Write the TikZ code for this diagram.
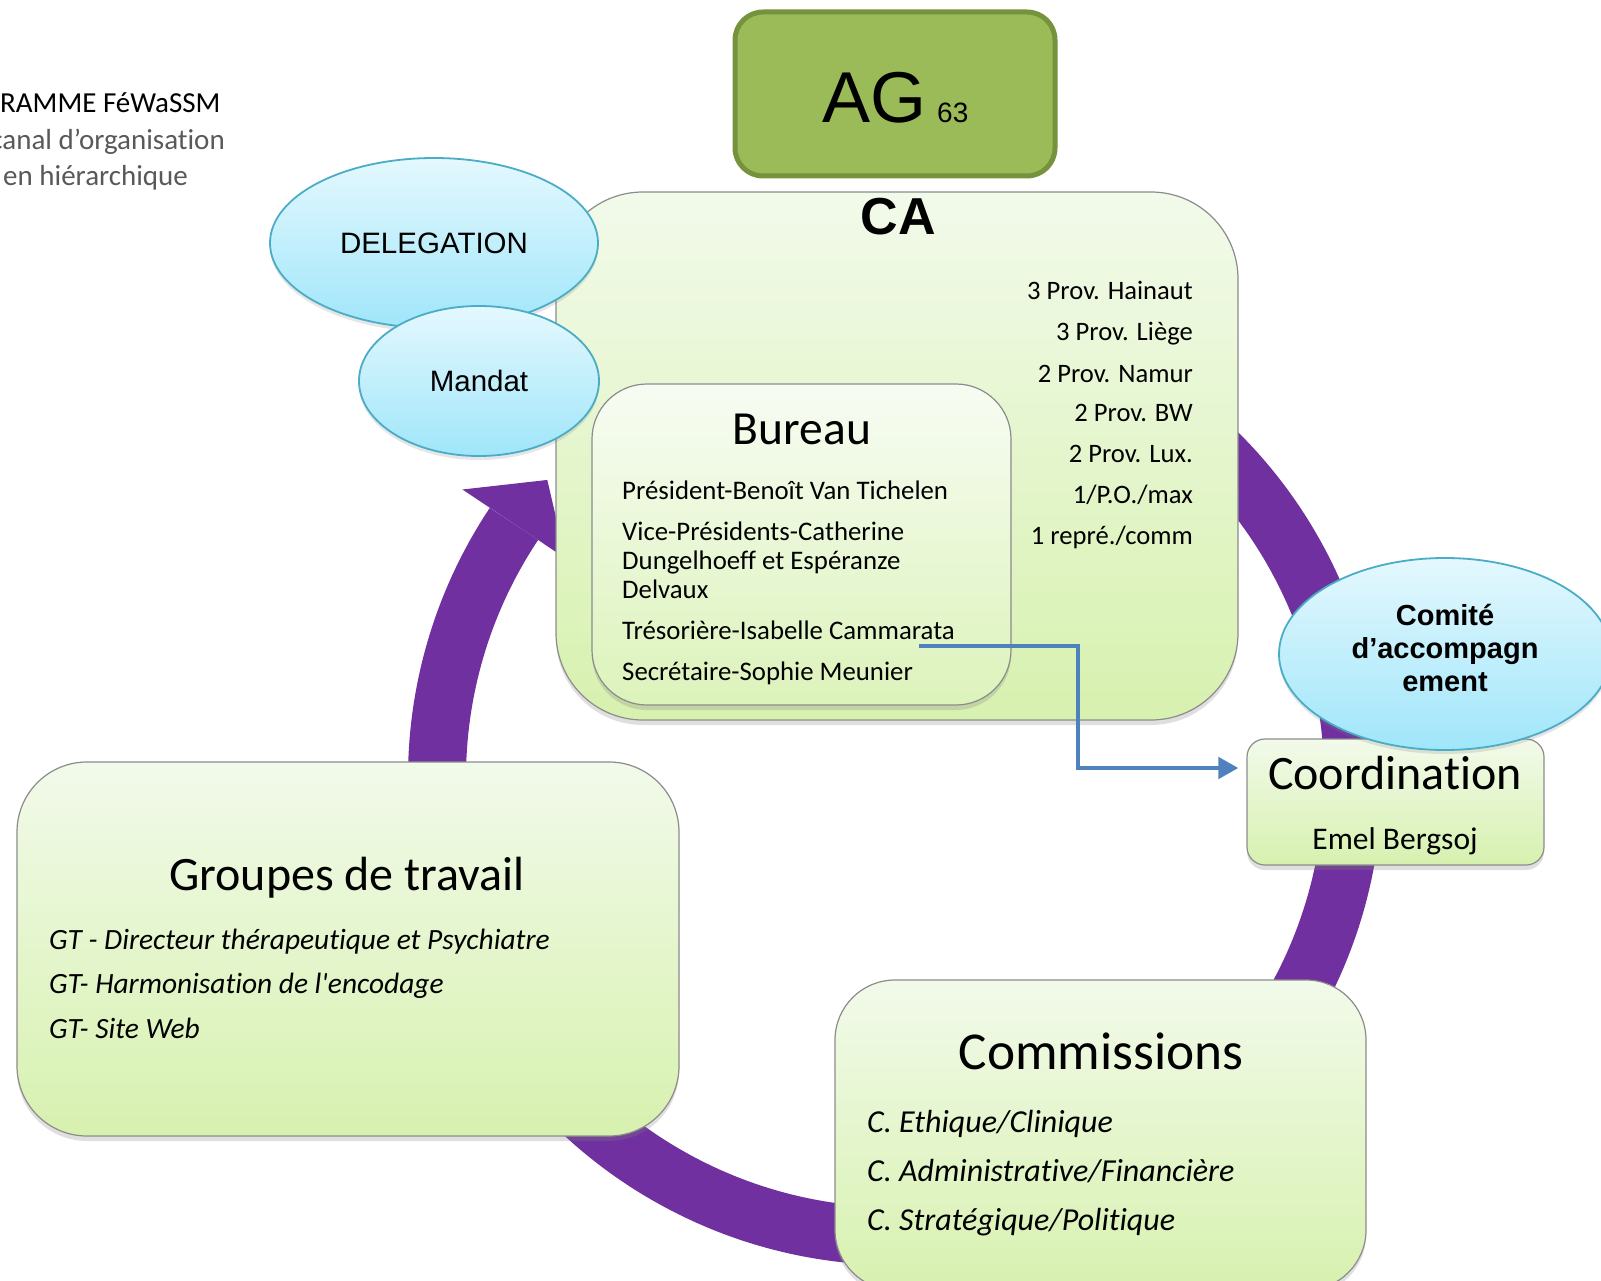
\documentclass[tikz,border=0pt]{standalone}
\usepackage{fontspec}
\setmainfont{Carlito}[Ligatures={NoCommon}]
\newfontfamily\carlitoplain{Carlito}[Ligatures={NoCommon}]
\newfontfamily\arialf{Liberation Sans}
\usetikzlibrary{shadows,calc,shapes.geometric,arrows.meta}
\definecolor{agfill}{HTML}{9BBB59}
\definecolor{agdraw}{HTML}{76923C}
\definecolor{purp}{HTML}{7030A0}
\definecolor{arrowblue}{HTML}{4F81BD}
\definecolor{gtop}{HTML}{F2FAEA}
\definecolor{gbot}{HTML}{D7F1AF}
\definecolor{btop}{HTML}{E4F8FE}
\definecolor{bbot}{HTML}{A0E6FA}
\definecolor{edgeblue}{HTML}{4BACC6}
\definecolor{boxedge}{HTML}{8C8C8C}
\definecolor{titlegray}{HTML}{595959}
\tikzset{
  greenbox/.style={draw=boxedge, line width=1.2pt, top color=gtop, bottom color=gbot,
    drop shadow={opacity=0.25, shadow xshift=0pt, shadow yshift=-5pt}},
  bluebubble/.style={ellipse, draw=edgeblue, line width=1.8pt, top color=btop, bottom color=bbot,
    inner sep=0pt, drop shadow={opacity=0.2, shadow xshift=0pt, shadow yshift=-4pt}},
  txt/.style={inner sep=0pt, text=black},
  ring/.style={purp, line width=58pt},
  bluearrow/.style={arrowblue, line width=4.5pt, -{Triangle[length=20pt,width=21pt]}}
}
\begin{document}
\begin{tikzpicture}[x=1pt,y=-1pt]
\useasboundingbox (0,0) rectangle (1601,1281);
% circular arrow
\coordinate (C) at (895,778);
\draw[ring] ($(C)+(-60:458)$) arc[start angle=-60,end angle=213.7,radius=458];
\fill[purp] ($(C)+(213.7:396)$) -- ($(C)+(213.7:520)$) -- ($(C)+(220.6:458)$) -- cycle;
% title
\node[txt, anchor=base west, font=\fontsize{29}{30}\selectfont] (t1) at (0,113) {RAMME FéWaSSM};
\node[txt, anchor=base east, text=titlegray, font=\fontsize{29}{30}\selectfont] (t2) at (225,150) {canal d’organisation};
\node[txt, anchor=base west, text=titlegray, font=\fontsize{29}{30}\selectfont] (t3) at (3,186) {en hiérarchique};
% AG
\node[draw=agdraw, line width=5pt, fill=agfill, rounded corners=28pt, minimum width=320pt, minimum height=164pt] (ag) at (895,94) {};
\node[txt, anchor=base west, font=\arialf\fontsize{72}{72}\selectfont] (agt) at (822,123) {AG};
\node[txt, anchor=base west, font=\arialf\fontsize{28}{28}\selectfont] (ag63) at (937,123) {63};
% CA
\node[greenbox, rounded corners=87pt, minimum width=682pt, minimum height=528pt] (ca) at (897,456) {};
\node[txt, anchor=base, font=\arialf\bfseries\fontsize{52}{52}\selectfont] (cat) at (898,235) {CA};
\foreach \t/\y [count=\i] in {{3 Prov. Hainaut}/300, {3 Prov. Liège}/341, {2 Prov. Namur}/382, {2 Prov. BW}/421, {2 Prov. Lux.}/462, {1/P.O./max}/503, {1 repré./comm}/544}
  \node[txt, anchor=base east, font=\fontsize{26.6}{28}\selectfont] (prov\i) at (1193,\y) {\t};
% Bureau
\node[greenbox, top color=gtop!60!white, bottom color=gbot!80!gtop, rounded corners=55pt, minimum width=419pt, minimum height=321pt] (bur) at (801.5,544.5) {};
\node[txt, anchor=base, font=\fontsize{47.5}{47}\selectfont] (burt) at (802,444) {Bureau};
\foreach \t/\y [count=\i] in {{Président-Benoît Van Tichelen}/499, {Vice-Présidents-Catherine}/540, {Dungelhoeff et Espéranze}/569, {Delvaux}/598, {Trésorière-Isabelle Cammarata}/639, {Secrétaire-Sophie Meunier}/680}
  \node[txt, anchor=base west, font=\fontsize{26.8}{28}\selectfont] (bl\i) at (622,\y) {\t};
% DELEGATION & Mandat
\node[bluebubble, minimum width=328pt, minimum height=170pt, font=\arialf\fontsize{29.5}{29}\selectfont] (del) at (434,243) {DELEGATION};
\node[bluebubble, minimum width=240pt, minimum height=150pt, font=\arialf\fontsize{29.5}{29}\selectfont] (man) at (479,381) {Mandat};
% Coordination
\node[greenbox, rounded corners=18pt, minimum width=297pt, minimum height=126pt] (coord) at (1395.5,802) {};
\node[txt, anchor=base, font=\fontsize{48}{48}\selectfont] (coordt) at (1395,789) {Coordination};
\node[txt, anchor=base, font=\fontsize{31.5}{31}\selectfont] (emel) at (1395,849) {Emel Bergsoj};
% Comite
\node[bluebubble, minimum width=332pt, minimum height=192pt] (com) at (1445,654) {};
\node[txt, align=center, font=\arialf\bfseries\fontsize{29}{33}\selectfont] (comt) at (1445,648) {Comité\\d’accompagn\\ement};
% blue arrow
\coordinate (ts) at (919,646);
\coordinate (tb) at (1078,646);
\draw[bluearrow, shorten >=8pt] (ts) -- (tb) |- ([yshift=34pt]coord.west);
% Groupes de travail
\node[greenbox, rounded corners=70pt, minimum width=662pt, minimum height=374pt] (gt) at (348,949) {};
\node[txt, anchor=base, font=\fontsize{48}{48}\selectfont] (gtt) at (347,890) {Groupes de travail};
\foreach \t/\y [count=\i] in {{GT - Directeur thérapeutique et Psychiatre}/949, {GT- Harmonisation de l'encodage}/993, {GT- Site Web}/1038}
  \node[txt, anchor=base west, font=\carlitoplain\itshape\fontsize{29.4}{30}\selectfont] (gl\i) at (49,\y) {\t};
% Commissions
\node[greenbox, rounded corners=60pt, minimum width=531pt, minimum height=310pt] (cm) at (1100.5,1135) {};
\node[txt, anchor=base, font=\fontsize{53.3}{53}\selectfont] (cmt) at (1101,1069) {Commissions};
\foreach \t/\y [count=\i] in {{C. Ethique/Clinique}/1132, {C. Administrative/Financière}/1181, {C. Stratégique/Politique}/1230}
  \node[txt, anchor=base west, font=\itshape\fontsize{32}{33}\selectfont] (cl\i) at (867,\y) {\t};
\end{tikzpicture}
\end{document}
